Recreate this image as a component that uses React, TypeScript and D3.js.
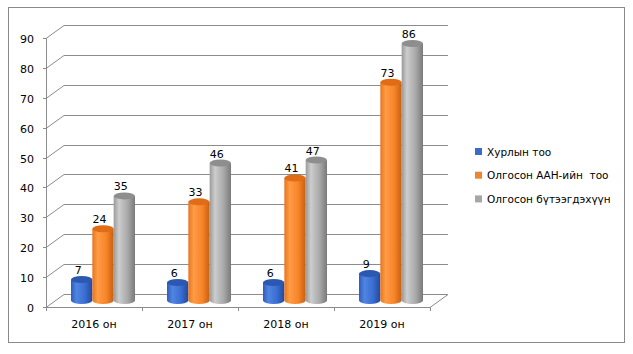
import React from "react";
import * as d3 from "d3";

const categories = ["2016 он", "2017 он", "2018 он", "2019 он"];
const seriesNames = ["Хурлын тоо", "Олгосон ААН-ийн  тоо", "Олгосон бүтээгдэхүүн"];
const meetings = [7, 6, 6, 9];
const companies = [24, 33, 41, 73];
const products = [35, 46, 47, 86];
const yTicks = [0, 10, 20, 30, 40, 50, 60, 70, 80, 90];

const seriesValues = [meetings, companies, products];
const colors = [
  { edge: "#2f5cb8", dark: "#214a9e", light: "#4f85e2", mid: "#3a6ed2", top: "#2b59b2", legend: "#3b6cc5" },
  { edge: "#e87520", dark: "#c8600e", light: "#ff9b45", mid: "#f7852a", top: "#e06c16", legend: "#ec8632" },
  { edge: "#9a9a9a", dark: "#7a7a7a", light: "#cdcdcd", mid: "#a9a9a9", top: "#8e8e8e", legend: "#a6a6a6" },
];

const FONT = "DejaVu Sans, Verdana, sans-serif";

export default function App() {
  const left = 46, right = 430, y0 = 307, y90 = 38;
  const DX = 18, DY = -13;
  const y = d3.scaleLinear().domain([0, 90]).range([y0, y90]);
  const x0 = d3.scaleBand<string>().domain(categories).range([left, right]).padding(0);
  const bw = x0.bandwidth();
  const x1 = d3.scaleBand<string>().domain(seriesNames).range([bw / 6, bw * 5 / 6]).padding(0);
  const gridColor = "#8c8c8c";
  const ry = 3.5;

  return (
    <svg width={633} height={354} style={{ position: "absolute", left: 0, top: 0 }}>
      <defs>
        {colors.map((c, i) => (
          <linearGradient key={i} id={`g${i}`} x1="0" x2="1" y1="0" y2="0">
            <stop offset="0%" stopColor={c.edge} />
            <stop offset="25%" stopColor={c.light} />
            <stop offset="65%" stopColor={c.mid} />
            <stop offset="100%" stopColor={c.dark} />
          </linearGradient>
        ))}
      </defs>
      <rect x={0} y={0} width={633} height={354} fill="#fff" />
      <rect x={8.5} y={7.5} width={616} height={335} fill="#fff" stroke="#8a8a8a" />
      {yTicks.map((t) => {
        const yy = Math.round(y(t)) + 0.5;
        return (
          <g key={t}>
            <line x1={left} y1={yy} x2={left + DX} y2={yy + DY} stroke={gridColor} />
            <line x1={left + DX} y1={yy + DY} x2={right + DX} y2={yy + DY} stroke={gridColor} />
            <line x1={left - 3} y1={yy} x2={left} y2={yy} stroke={gridColor} />
            <text x={34} y={yy + 4.5} textAnchor="end" fontFamily={FONT} fontSize={11} fill="#000">
              {t}
            </text>
          </g>
        );
      })}
      <line x1={left} y1={y0 + 0.5} x2={right} y2={y0 + 0.5} stroke={gridColor} />
      <line x1={right} y1={y0 + 0.5} x2={right + DX} y2={y0 + 0.5 + DY} stroke={gridColor} />
      <line x1={left + 0.5} y1={Math.round(y90)} x2={left + 0.5} y2={y0 + 0.5} stroke={gridColor} />
      {[...categories.map((c) => x0(c)!), right].map((xx, i) => (
        <line key={i} x1={Math.round(xx) + 0.5} y1={y0} x2={Math.round(xx) + 0.5} y2={y0 + 4} stroke={gridColor} />
      ))}
      {categories.map((c) => (
        <text key={c} x={x0(c)! + bw / 2} y={328} textAnchor="middle" fontFamily={FONT} fontSize={11} fill="#000">
          {c}
        </text>
      ))}
      {categories.map((c, ci) => (
        <g key={c}>
          {seriesNames.map((s, si) => {
            const v = seriesValues[si][ci];
            const w = x1.bandwidth();
            const bx = x0(c)! + x1(s)! + DX / 2;
            const yb = y(0) + DY / 2;
            const yt = y(v) + DY / 2;
            const rx = w / 2;
            const d = `M${bx},${yt} L${bx},${yb} A${rx},${ry} 0 0 0 ${bx + w},${yb} L${bx + w},${yt} Z`;
            return (
              <g key={s}>
                <path d={d} fill={`url(#g${si})`} />
                <ellipse cx={bx + rx} cy={yt} rx={rx} ry={ry} fill={colors[si].top} />
                <text x={bx + rx - 3.5} y={yt - 5.5} textAnchor="middle" fontFamily={FONT} fontSize={11} fill="#000">
                  {v}
                </text>
              </g>
            );
          })}
        </g>
      ))}
      {seriesNames.map((s, i) => (
        <g key={s} transform={`translate(475, ${148 + i * 23.7})`}>
          <rect x={0} y={0} width={7} height={7} fill={colors[i].legend} />
          <text x={12} y={7.5} fontFamily={FONT} fontSize={10.5} fill="#000" style={{ whiteSpace: "pre" }}>
            {s}
          </text>
        </g>
      ))}
    </svg>
  );
}
